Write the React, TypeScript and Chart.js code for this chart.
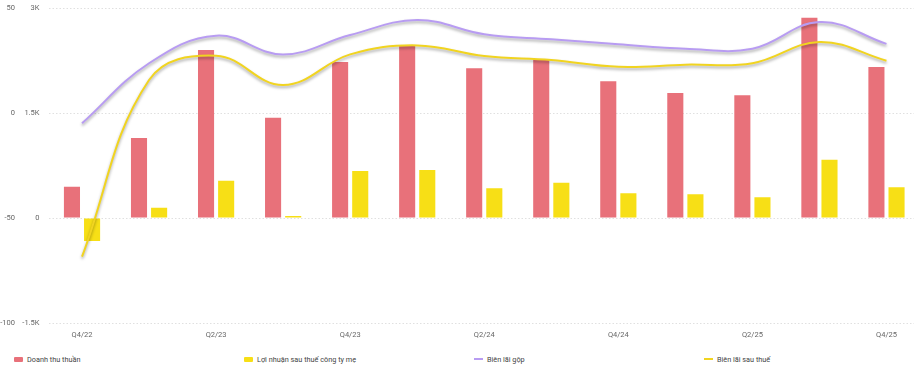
import React, { useEffect, useRef } from "react";
import { Chart, registerables } from "chart.js";

Chart.register(...registerables);

const categories = ["Q4/22", "Q1/23", "Q2/23", "Q3/23", "Q4/23", "Q1/24", "Q2/24", "Q3/24", "Q4/24", "Q1/25", "Q2/25", "Q3/25", "Q4/25"];
const revenue = [447, 1143, 2400, 1433, 2229, 2457, 2138, 2267, 1952, 1786, 1752, 2862, 2157];
const netProfit = [-329, 147, 533, 29, 671, 686, 424, 505, 352, 338, 295, 833, 438];
const grossMargin = [-4.9, 23.7, 36.8, 27.9, 37.1, 44.3, 37.5, 35.1, 32.7, 30.6, 30.6, 43.3, 32.9];
const netMargin = [-68.4, 15.7, 27.3, 13.3, 27.9, 32.2, 27.1, 25.2, 22.0, 23.0, 23.7, 33.8, 24.9];

const seriesNames = ["Doanh thu thuần", "Lợi nhuận sau thuế công ty mẹ", "Biên lãi gộp", "Biên lãi sau thuế"];
const pctTicks = [-100, -50, 0, 50];
const valTicks = [-1500, 0, 1500, 3000];

const RED = "#E8717A";
const YELLOW_BAR = "#F7DF16";
const PURPLE = "#B89CF2";
const YELLOW_LINE = "#F1D420";
const FONT = "Roboto, 'Noto Sans', sans-serif";

const shadowPlugin = {
  id: "lineShadow",
  beforeDatasetDraw(chart: any, args: any) {
    const ds = chart.data.datasets[args.index];
    if (ds.type === "line") {
      const ctx = chart.ctx;
      ctx.save();
      ctx.shadowColor = "rgba(0,0,0,0.35)";
      ctx.shadowBlur = 3;
      ctx.shadowOffsetX = 0;
      ctx.shadowOffsetY = 2;
    }
  },
  afterDatasetDraw(chart: any, args: any) {
    const ds = chart.data.datasets[args.index];
    if (ds.type === "line") {
      chart.ctx.restore();
    }
  },
};

function fmtK(v: number) {
  if (v === 0) return "0";
  return v / 1000 + "K";
}

export default function App() {
  const ref = useRef<HTMLCanvasElement | null>(null);

  useEffect(() => {
    if (!ref.current) return;
    const chart = new Chart(ref.current, {
      type: "bar",
      data: {
        labels: categories,
        datasets: [
          {
            type: "bar",
            label: seriesNames[0],
            data: revenue,
            backgroundColor: RED,
            yAxisID: "yVal",
            order: 2,
            categoryPercentage: 0.6,
            barPercentage: 0.8,
          },
          {
            type: "bar",
            label: seriesNames[1],
            data: netProfit,
            backgroundColor: YELLOW_BAR,
            yAxisID: "yVal",
            order: 2,
            categoryPercentage: 0.6,
            barPercentage: 0.8,
          },
          {
            type: "line",
            label: seriesNames[2],
            data: grossMargin,
            borderColor: PURPLE,
            backgroundColor: PURPLE,
            borderWidth: 2,
            pointRadius: 0,
            tension: 0.4,
            yAxisID: "yPct",
            order: 0,
          },
          {
            type: "line",
            label: seriesNames[3],
            data: netMargin,
            borderColor: YELLOW_LINE,
            backgroundColor: YELLOW_LINE,
            borderWidth: 2,
            pointRadius: 0,
            tension: 0.4,
            yAxisID: "yPct",
            order: 0,
          },
        ] as any,
      },
      options: {
        animation: false,
        responsive: false,
        maintainAspectRatio: false,
        layout: { padding: { top: 8, left: 0, right: 0, bottom: 0 } },
        plugins: {
          legend: { display: false },
          tooltip: { enabled: false },
        },
        scales: {
          x: {
            grid: { display: false, drawTicks: false },
            border: { display: false },
            ticks: {
              autoSkip: false,
              maxRotation: 0,
              padding: 8,
              color: "#666",
              font: { family: FONT, size: 7.5 },
              callback: (_v: any, i: number) => (i % 2 === 0 ? categories[i] : ""),
            },
            afterFit: (s: any) => {
              s.height = 27;
            },
          },
          yPct: {
            type: "linear",
            position: "left",
            weight: 2,
            min: pctTicks[0],
            max: pctTicks[pctTicks.length - 1],
            afterBuildTicks: (s: any) => {
              s.ticks = pctTicks.map((v) => ({ value: v }));
            },
            grid: { display: false, drawTicks: false },
            border: { display: false },
            ticks: {
              padding: 5,
              color: "#666",
              font: { family: FONT, size: 7.5 },
              callback: (v: any) => String(v),
            },
            afterFit: (s: any) => {
              s.width = 20;
              s.paddingTop = 0;
              s.paddingBottom = 0;
            },
          },
          yVal: {
            type: "linear",
            position: "left",
            weight: 1,
            min: valTicks[0],
            max: valTicks[valTicks.length - 1],
            afterBuildTicks: (s: any) => {
              s.ticks = valTicks.map((v) => ({ value: v }));
            },
            grid: { display: true, drawTicks: false, color: "#E0E0E0", lineWidth: 1 },
            border: { display: false, dash: [1.5, 2] },
            ticks: {
              padding: 9,
              color: "#666",
              font: { family: FONT, size: 7.5 },
              callback: (v: any) => fmtK(Number(v)),
            },
            afterFit: (s: any) => {
              s.width = 28.5;
              s.paddingTop = 0;
              s.paddingBottom = 0;
            },
          },
        },
      } as any,
      plugins: [shadowPlugin],
    });
    return () => chart.destroy();
  }, []);

  const legendItems = [
    { name: seriesNames[0], color: RED, kind: "box" },
    { name: seriesNames[1], color: YELLOW_BAR, kind: "box" },
    { name: seriesNames[2], color: PURPLE, kind: "line" },
    { name: seriesNames[3], color: YELLOW_LINE, kind: "line" },
  ];

  return (
    <div style={{ position: "absolute", left: 0, top: 0, width: 914, height: 372, overflow: "hidden", background: "#fff" }}>
      <canvas ref={ref} width={920} height={350} style={{ position: "absolute", left: 0, top: 0, display: "block", width: 920, height: 350 }} />
      <div style={{ position: "absolute", left: 0, top: 350, display: "flex", width: 920, height: 18, fontFamily: FONT, fontSize: 7.3, color: "#444" }}>
        {legendItems.map((it) => (
          <div key={it.name} style={{ width: 230, display: "flex", alignItems: "center", paddingLeft: 14, boxSizing: "border-box", height: 18 }}>
            {it.kind === "box" ? (
              <span style={{ display: "inline-block", width: 9, height: 5, background: it.color, borderRadius: 1, marginRight: 4 }} />
            ) : (
              <span style={{ display: "inline-block", width: 9, height: 2, background: it.color, marginRight: 4 }} />
            )}
            <span>{it.name}</span>
          </div>
        ))}
      </div>
    </div>
  );
}
